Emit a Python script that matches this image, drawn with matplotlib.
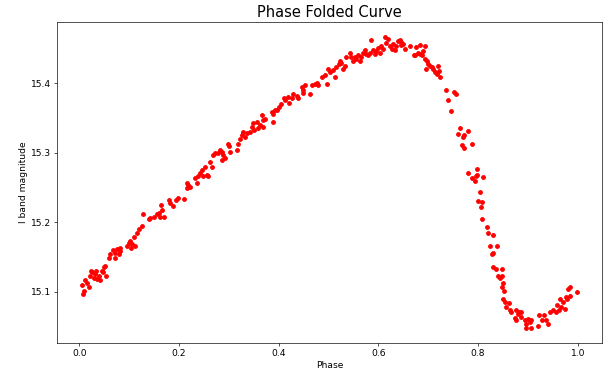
import matplotlib
matplotlib.use('Agg')
import matplotlib.pyplot as plt
import numpy as np

# phase-folded light curve
phase = [
    0.005, 0.007, 0.010, 0.012, 0.015, 0.019, 0.022, 0.023, 0.025, 0.029,
    0.032, 0.034, 0.035, 0.039, 0.042, 0.045, 0.047, 0.049, 0.052, 0.054,
    0.059, 0.062, 0.067, 0.072, 0.072, 0.075, 0.079, 0.082, 0.082, 0.096,
    0.099, 0.102, 0.104, 0.105, 0.109, 0.112, 0.116, 0.119, 0.126, 0.128,
    0.139, 0.142, 0.149, 0.156, 0.159, 0.162, 0.164, 0.166, 0.169, 0.179,
    0.182, 0.189, 0.194, 0.199, 0.210, 0.216, 0.217, 0.219, 0.222, 0.232,
    0.236, 0.239, 0.242, 0.246, 0.249, 0.252, 0.256, 0.259, 0.262, 0.266,
    0.269, 0.273, 0.279, 0.283, 0.286, 0.286, 0.289, 0.293, 0.299, 0.301,
    0.303, 0.316, 0.319, 0.323, 0.326, 0.329, 0.333, 0.336, 0.343, 0.346,
    0.349, 0.351, 0.356, 0.359, 0.363, 0.366, 0.369, 0.369, 0.373, 0.386,
    0.389, 0.389, 0.393, 0.396, 0.400, 0.405, 0.410, 0.413, 0.418, 0.421,
    0.426, 0.429, 0.436, 0.439, 0.446, 0.449, 0.449, 0.453, 0.463, 0.466,
    0.473, 0.476, 0.479, 0.486, 0.493, 0.496, 0.499, 0.503, 0.509, 0.513,
    0.516, 0.521, 0.523, 0.526, 0.530, 0.533, 0.535, 0.543, 0.546, 0.550,
    0.553, 0.556, 0.560, 0.563, 0.566, 0.570, 0.573, 0.576, 0.580, 0.583,
    0.586, 0.590, 0.593, 0.596, 0.600, 0.603, 0.606, 0.610, 0.613, 0.616,
    0.620, 0.623, 0.627, 0.630, 0.633, 0.636, 0.640, 0.643, 0.645, 0.646,
    0.650, 0.653, 0.663, 0.672, 0.673, 0.675, 0.680, 0.683, 0.683, 0.687,
    0.689, 0.693, 0.693, 0.695, 0.697, 0.700, 0.703, 0.707, 0.710, 0.713,
    0.717, 0.720, 0.722, 0.723, 0.735, 0.740, 0.745, 0.752, 0.755, 0.760,
    0.764, 0.767, 0.770, 0.772, 0.772, 0.780, 0.780, 0.787, 0.788, 0.794,
    0.796, 0.797, 0.798, 0.800, 0.804, 0.805, 0.807, 0.808, 0.810, 0.818,
    0.820, 0.824, 0.828, 0.830, 0.830, 0.830, 0.836, 0.838, 0.840, 0.844,
    0.848, 0.848, 0.849, 0.850, 0.850, 0.852, 0.855, 0.856, 0.862, 0.864,
    0.867, 0.874, 0.877, 0.877, 0.880, 0.882, 0.887, 0.887, 0.894, 0.896,
    0.897, 0.900, 0.904, 0.907, 0.907, 0.920, 0.922, 0.929, 0.932, 0.936,
    0.940, 0.944, 0.950, 0.956, 0.958, 0.963, 0.964, 0.967, 0.971, 0.974,
    0.977, 0.979, 0.981, 0.984, 0.984, 0.999,
]
mag = [
    15.109, 15.097, 15.101, 15.116, 15.112, 15.106, 15.123, 15.129, 15.128, 15.120,
    15.125, 15.130, 15.118, 15.123, 15.116, 15.130, 15.128, 15.135, 15.137, 15.123,
    15.149, 15.154, 15.160, 15.156, 15.149, 15.161, 15.154, 15.159, 15.163, 15.166,
    15.170, 15.173, 15.163, 15.168, 15.178, 15.166, 15.185, 15.190, 15.194, 15.211,
    15.204, 15.206, 15.208, 15.211, 15.213, 15.208, 15.225, 15.218, 15.207, 15.232,
    15.228, 15.223, 15.232, 15.235, 15.233, 15.249, 15.256, 15.254, 15.251, 15.264,
    15.256, 15.266, 15.270, 15.275, 15.266, 15.280, 15.268, 15.266, 15.287, 15.280,
    15.297, 15.299, 15.299, 15.304, 15.301, 15.290, 15.297, 15.292, 15.313, 15.309,
    15.301, 15.304, 15.313, 15.320, 15.325, 15.330, 15.323, 15.328, 15.330, 15.337,
    15.342, 15.332, 15.344, 15.335, 15.340, 15.354, 15.347, 15.337, 15.349, 15.359,
    15.355, 15.344, 15.361, 15.362, 15.365, 15.370, 15.378, 15.375, 15.380, 15.372,
    15.378, 15.385, 15.382, 15.378, 15.394, 15.390, 15.386, 15.397, 15.385, 15.397,
    15.399, 15.400, 15.398, 15.409, 15.411, 15.399, 15.420, 15.416, 15.419, 15.409,
    15.423, 15.427, 15.432, 15.429, 15.420, 15.425, 15.437, 15.443, 15.437, 15.432,
    15.438, 15.435, 15.440, 15.432, 15.437, 15.443, 15.447, 15.442, 15.440, 15.444,
    15.462, 15.448, 15.442, 15.446, 15.450, 15.444, 15.454, 15.449, 15.467, 15.458,
    15.463, 15.454, 15.449, 15.456, 15.447, 15.454, 15.461, 15.462, 15.459, 15.455,
    15.456, 15.449, 15.453, 15.440, 15.440, 15.452, 15.444, 15.455, 15.442, 15.440,
    15.446, 15.453, 15.435, 15.420, 15.432, 15.428, 15.425, 15.423, 15.420, 15.416,
    15.413, 15.425, 15.418, 15.409, 15.390, 15.376, 15.360, 15.387, 15.385, 15.327,
    15.336, 15.311, 15.323, 15.325, 15.306, 15.331, 15.270, 15.263, 15.312, 15.259,
    15.267, 15.276, 15.268, 15.230, 15.243, 15.222, 15.229, 15.204, 15.265, 15.193,
    15.185, 15.165, 15.154, 15.182, 15.156, 15.135, 15.132, 15.166, 15.122, 15.119,
    15.123, 15.106, 15.133, 15.113, 15.090, 15.101, 15.085, 15.078, 15.084, 15.074,
    15.071, 15.062, 15.073, 15.059, 15.068, 15.071, 15.070, 15.063, 15.059, 15.054,
    15.048, 15.061, 15.056, 15.059, 15.047, 15.051, 15.066, 15.059, 15.066, 15.059,
    15.054, 15.070, 15.074, 15.070, 15.080, 15.073, 15.090, 15.078, 15.085, 15.075,
    15.092, 15.090, 15.104, 15.094, 15.107, 15.099,
]

fig = plt.figure(figsize=(10.05, 6.367), dpi=60)
ax = fig.add_axes([57 / 603, 1 - 343 / 382, 545 / 603, 321 / 382])
ax.scatter(phase, mag, color='red', s=22)
ax.set_title("Phase Folded Curve", fontsize=17.5)
ax.set_xlabel("Phase", fontsize=11)
ax.set_ylabel("I band magnitude", fontsize=11)
ax.set_xticks([0.0, 0.2, 0.4, 0.6, 0.8, 1.0])
ax.set_yticks([15.1, 15.2, 15.3, 15.4])
ax.tick_params(labelsize=11)

fig.savefig("out.png", dpi=60)
